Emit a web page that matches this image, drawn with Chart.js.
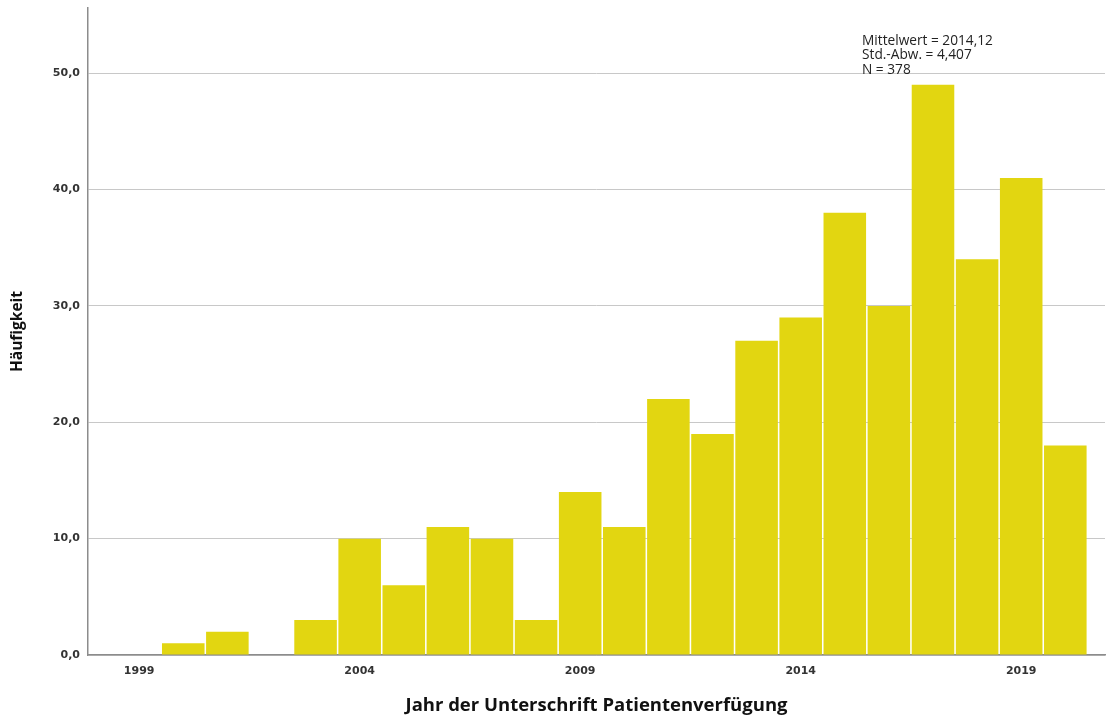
<!DOCTYPE html>
<html>
<head>
<meta charset="utf-8">
<script src="https://cdn.jsdelivr.net/npm/chart.js@4/dist/chart.umd.min.js"></script>
<style>
  html, body { margin: 0; padding: 0; background: #fff; }
  #wrap { width: 1113px; height: 718px; }
</style>
</head>
<body>
<div id="wrap"><canvas id="histChart" width="1113" height="718"></canvas></div>
<script>
// Jahre (Klassenmitten) und Häufigkeiten
var jahre = [1999, 2000, 2001, 2002, 2003, 2004, 2005, 2006, 2007, 2008, 2009, 2010,
             2011, 2012, 2013, 2014, 2015, 2016, 2017, 2018, 2019, 2020];
var haeufigkeit = [0, 1, 2, 0, 3, 10, 6, 11, 10, 3, 14, 11,
                   22, 19, 27, 29, 38, 30, 49, 34, 41, 18];
var xTicks = [1999, 2004, 2009, 2014, 2019];
var yTicks = [0, 10, 20, 30, 40, 50];
var statistik = ['Mittelwert = 2014,12', 'Std.-Abw. = 4,407', 'N = 378'];

var punkte = jahre.map(function (j, i) { return { x: j, y: haeufigkeit[i] }; });

// Textblock oben rechts
var statPlugin = {
    id: 'statText',
    afterDraw: function (chart) {
        var c = chart.ctx, a = chart.chartArea;
        c.save();
        c.font = '500 13.7px "Open Sans"';
        c.fillStyle = '#222';
        c.textBaseline = 'middle';
        statistik.forEach(function (t, i) {
            c.fillText(t, a.right - 243, a.top + 33 + i * 14.6);
        });
        c.restore();
    }
};

var ctx = document.getElementById('histChart').getContext('2d');
var chart = new Chart(ctx, {
    type: 'bar',
    data: {
        datasets: [{
            data: punkte,
            backgroundColor: '#e2d611',
            borderWidth: 0,
            barPercentage: 0.965,
            categoryPercentage: 1
        }]
    },
    options: {
        responsive: false,
        animation: false,
        layout: { padding: { top: 8, right: 8, left: 0, bottom: 0 } },
        plugins: { legend: { display: false }, tooltip: { enabled: false } },
        scales: {
            x: {
                type: 'linear',
                min: 1997.84,
                max: 2020.9,
                offset: false,
                grid: { display: false, drawTicks: false },
                border: { display: true, color: '#8c8c8c', width: 1.5 },
                afterBuildTicks: function (s) { s.ticks = xTicks.map(function (v) { return { value: v }; }); },
                afterFit: function (s) { s.height = 63; s.paddingLeft = 0; s.paddingRight = 0; },
                ticks: {
                    padding: 10,
                    maxRotation: 0,
                    color: '#333',
                    font: { family: 'DejaVu Sans', size: 11, weight: 'bold' },
                    callback: function (v) { return String(v); }
                },
                title: {
                    display: true,
                    text: 'Jahr der Unterschrift Patientenverfügung',
                    color: '#111',
                    font: { family: 'Open Sans', size: 18.5, weight: 'bold' },
                    padding: { top: 0, bottom: 1 }
                }
            },
            y: {
                min: 0,
                max: 55.6,
                grid: { color: '#c8c8c8', lineWidth: 1, drawTicks: false },
                border: { display: true, color: '#8c8c8c', width: 1.5 },
                afterBuildTicks: function (s) { s.ticks = yTicks.map(function (v) { return { value: v }; }); },
                afterFit: function (s) { s.width = 88; s.paddingTop = 0; s.paddingBottom = 0; },
                ticks: {
                    padding: 8,
                    color: '#333',
                    font: { family: 'DejaVu Sans', size: 11, weight: 'bold' },
                    callback: function (v) { return v.toFixed(1).replace('.', ','); }
                },
                title: {
                    display: true,
                    text: 'Häufigkeit',
                    color: '#111',
                    font: { family: 'Open Sans', size: 15.5, weight: 'bold' },
                    padding: { top: 8, bottom: 0 }
                }
            }
        }
    },
    plugins: [statPlugin]
});
</script>
</body>
</html>
